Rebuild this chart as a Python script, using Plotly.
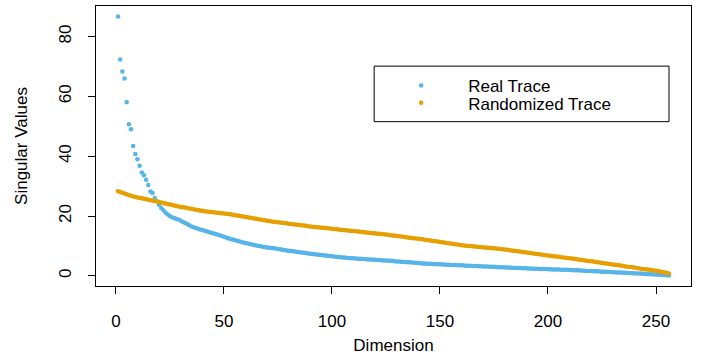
import plotly.graph_objects as go

dimension = list(range(1, 257))

real_trace = [
    86.7, 72.3, 68.3, 66.0, 58.0, 50.7, 49.0, 43.4, 40.7, 39.0,
    36.8, 34.5, 33.6, 32.1, 30.4, 28.2, 27.7, 26.0, 24.9, 23.8,
    22.7, 21.9, 21.1, 20.5, 20.0, 19.6, 19.3, 19.0, 18.8, 18.4,
    18.0, 17.7, 17.3, 16.9, 16.5, 16.2, 16.0, 15.7, 15.5, 15.3,
    15.1, 14.9, 14.65, 14.4, 14.2, 14.0, 13.8, 13.6, 13.35, 13.1,
    12.85, 12.6, 12.35, 12.15, 11.95, 11.75, 11.55, 11.35, 11.15, 10.95,
    10.8, 10.6, 10.45, 10.3, 10.15, 10.0, 9.85, 9.75, 9.65, 9.5,
    9.4, 9.3, 9.2, 9.1, 8.95, 8.85, 8.75, 8.6, 8.5, 8.4,
    8.3, 8.2, 8.1, 8.0, 7.9, 7.8, 7.7, 7.6, 7.5, 7.4,
    7.3, 7.2, 7.15, 7.05, 6.95, 6.85, 6.8, 6.7, 6.6, 6.55,
    6.45, 6.4, 6.3, 6.25, 6.15, 6.1, 6.0, 5.95, 5.9, 5.85,
    5.8, 5.75, 5.7, 5.65, 5.6, 5.55, 5.5, 5.45, 5.4, 5.35,
    5.3, 5.25, 5.2, 5.15, 5.1, 5.05, 5.0, 4.95, 4.9, 4.8,
    4.75, 4.7, 4.65, 4.6, 4.55, 4.5, 4.45, 4.4, 4.35, 4.3,
    4.2, 4.15, 4.1, 4.05, 4.0, 4.0, 3.95, 3.9, 3.85, 3.85,
    3.8, 3.75, 3.7, 3.7, 3.65, 3.6, 3.6, 3.55, 3.5, 3.5,
    3.45, 3.4, 3.4, 3.35, 3.3, 3.3, 3.25, 3.2, 3.2, 3.15,
    3.1, 3.1, 3.05, 3.0, 3.0, 2.95, 2.9, 2.9, 2.85, 2.8,
    2.8, 2.75, 2.7, 2.7, 2.65, 2.6, 2.6, 2.55, 2.5, 2.5,
    2.45, 2.45, 2.4, 2.4, 2.35, 2.3, 2.3, 2.25, 2.25, 2.2,
    2.2, 2.15, 2.15, 2.1, 2.1, 2.05, 2.05, 2.0, 2.0, 1.95,
    1.95, 1.9, 1.9, 1.85, 1.8, 1.75, 1.7, 1.65, 1.65, 1.6,
    1.55, 1.5, 1.5, 1.45, 1.4, 1.4, 1.35, 1.3, 1.25, 1.2,
    1.2, 1.15, 1.1, 1.1, 1.05, 1.0, 0.95, 0.95, 0.9, 0.85,
    0.8, 0.8, 0.75, 0.7, 0.65, 0.6, 0.55, 0.5, 0.45, 0.45,
    0.4, 0.35, 0.3, 0.25, 0.2, 0.1,
]

randomized_trace = [
    28.3, 28.0, 27.8, 27.5, 27.3, 27.0, 26.8, 26.5, 26.35, 26.2,
    26.05, 25.9, 25.75, 25.6, 25.45, 25.3, 25.15, 25.0, 24.85, 24.7,
    24.5, 24.35, 24.2, 24.0, 23.85, 23.7, 23.5, 23.35, 23.2, 23.05,
    22.9, 22.8, 22.65, 22.5, 22.4, 22.25, 22.1, 22.0, 21.85, 21.75,
    21.6, 21.5, 21.4, 21.3, 21.25, 21.15, 21.05, 21.0, 20.9, 20.85,
    20.75, 20.7, 20.6, 20.45, 20.35, 20.2, 20.1, 19.95, 19.85, 19.7,
    19.6, 19.45, 19.35, 19.2, 19.1, 18.95, 18.85, 18.7, 18.6, 18.45,
    18.35, 18.2, 18.1, 18.0, 17.9, 17.8, 17.75, 17.65, 17.55, 17.45,
    17.35, 17.25, 17.15, 17.05, 16.95, 16.9, 16.8, 16.7, 16.6, 16.5,
    16.4, 16.35, 16.25, 16.2, 16.1, 16.05, 15.95, 15.9, 15.8, 15.75,
    15.65, 15.55, 15.5, 15.4, 15.35, 15.25, 15.2, 15.1, 15.05, 14.95,
    14.9, 14.8, 14.75, 14.65, 14.55, 14.5, 14.4, 14.35, 14.25, 14.2,
    14.1, 14.05, 13.95, 13.9, 13.8, 13.7, 13.6, 13.5, 13.45, 13.35,
    13.25, 13.15, 13.05, 12.95, 12.85, 12.75, 12.65, 12.6, 12.5, 12.4,
    12.3, 12.2, 12.1, 12.0, 11.9, 11.75, 11.65, 11.55, 11.45, 11.35,
    11.2, 11.1, 11.0, 10.9, 10.8, 10.65, 10.55, 10.45, 10.35, 10.2,
    10.15, 10.05, 10.0, 9.95, 9.85, 9.8, 9.7, 9.65, 9.6, 9.5,
    9.45, 9.4, 9.35, 9.25, 9.2, 9.15, 9.05, 9.0, 8.9, 8.8,
    8.7, 8.6, 8.5, 8.4, 8.3, 8.2, 8.1, 8.0, 7.9, 7.8,
    7.7, 7.6, 7.5, 7.4, 7.3, 7.2, 7.1, 7.0, 6.9, 6.8,
    6.7, 6.6, 6.5, 6.45, 6.35, 6.25, 6.15, 6.05, 5.95, 5.85,
    5.8, 5.7, 5.6, 5.5, 5.4, 5.3, 5.15, 5.05, 4.95, 4.85,
    4.75, 4.65, 4.55, 4.45, 4.3, 4.2, 4.1, 4.0, 3.9, 3.8,
    3.7, 3.6, 3.5, 3.35, 3.25, 3.15, 3.05, 2.95, 2.85, 2.75,
    2.6, 2.5, 2.4, 2.3, 2.2, 2.1, 2.0, 1.9, 1.8, 1.7,
    1.55, 1.45, 1.3, 1.15, 1.0, 0.8,
]

x_ticks = [0, 50, 100, 150, 200, 250]
y_ticks = [0, 20, 40, 60, 80]

BLUE = "#56B4E9"
ORANGE = "#E69F00"
FONT = "Liberation Sans, Arial, Helvetica, sans-serif"

W, H = 701, 359
L, R, T, B = 95.7, 691.0, 5.7, 286.5  # plot box in pixels
pw, ph = R - L, B - T


def px_x(p):
    return (p - L) / pw


def px_y(p):
    return (B - p) / ph


fig = go.Figure()
fig.add_trace(go.Scatter(
    x=dimension, y=real_trace, mode="markers", name="Real Trace",
    marker=dict(color=BLUE, size=4.5, line=dict(width=0)), legend="legend",
))
fig.add_trace(go.Scatter(
    x=dimension, y=randomized_trace, mode="markers", name="Randomized Trace",
    marker=dict(color=ORANGE, size=4.5, line=dict(width=0)), legend="legend2",
))

leg_common = dict(
    font=dict(family=FONT, size=17, color="black"),
    bgcolor="rgba(0,0,0,0)", borderwidth=0, itemwidth=84,
    xanchor="left", yanchor="middle", tracegroupgap=0,
)

fig.update_layout(
    width=W, height=H,
    margin=dict(l=L, r=W - R, t=T, b=H - B, pad=0, autoexpand=False),
    paper_bgcolor="white", plot_bgcolor="white",
    font=dict(family=FONT, size=17, color="black"),
    showlegend=True,
    legend=dict(x=px_x(374), y=px_y(86), **leg_common),
    legend2=dict(x=px_x(374), y=px_y(103.3), **leg_common),
    xaxis=dict(
        range=[-9.2, 266.2], tickvals=x_ticks, ticktext=[str(v) for v in x_ticks],
        ticks="outside", ticklen=7, tickwidth=1, tickcolor="black",
        showline=True, linecolor="black", linewidth=1, mirror=True,
        showgrid=False, zeroline=False, automargin=False,
        tickfont=dict(family=FONT, size=17, color="black"),
        ticklabelstandoff=13,
        title=dict(text="Dimension", font=dict(family=FONT, size=17, color="black"), standoff=8),
    ),
    yaxis=dict(
        range=[-3.4, 90.2], tickvals=y_ticks, ticktext=[str(v) for v in y_ticks],
        ticks="outside", ticklen=7, tickwidth=1, tickcolor="black",
        showline=True, linecolor="black", linewidth=1, mirror=True,
        showgrid=False, zeroline=False, tickangle=-90, automargin=False,
        tickfont=dict(family=FONT, size=17, color="black"),
        ticklabelstandoff=10,
        title=dict(text="Singular Values", font=dict(family=FONT, size=17, color="black"), standoff=24),
    ),
    shapes=[dict(
        type="rect", xref="paper", yref="paper",
        x0=px_x(374), x1=px_x(669), y0=px_y(121.7), y1=px_y(66),
        line=dict(color="black", width=1), fillcolor="rgba(0,0,0,0)", layer="above",
    )],
)

fig.write_html(
    "out.html",
    config={"displayModeBar": False},
    post_script="document.body.style.margin='0';document.body.style.overflow='hidden';",
)
